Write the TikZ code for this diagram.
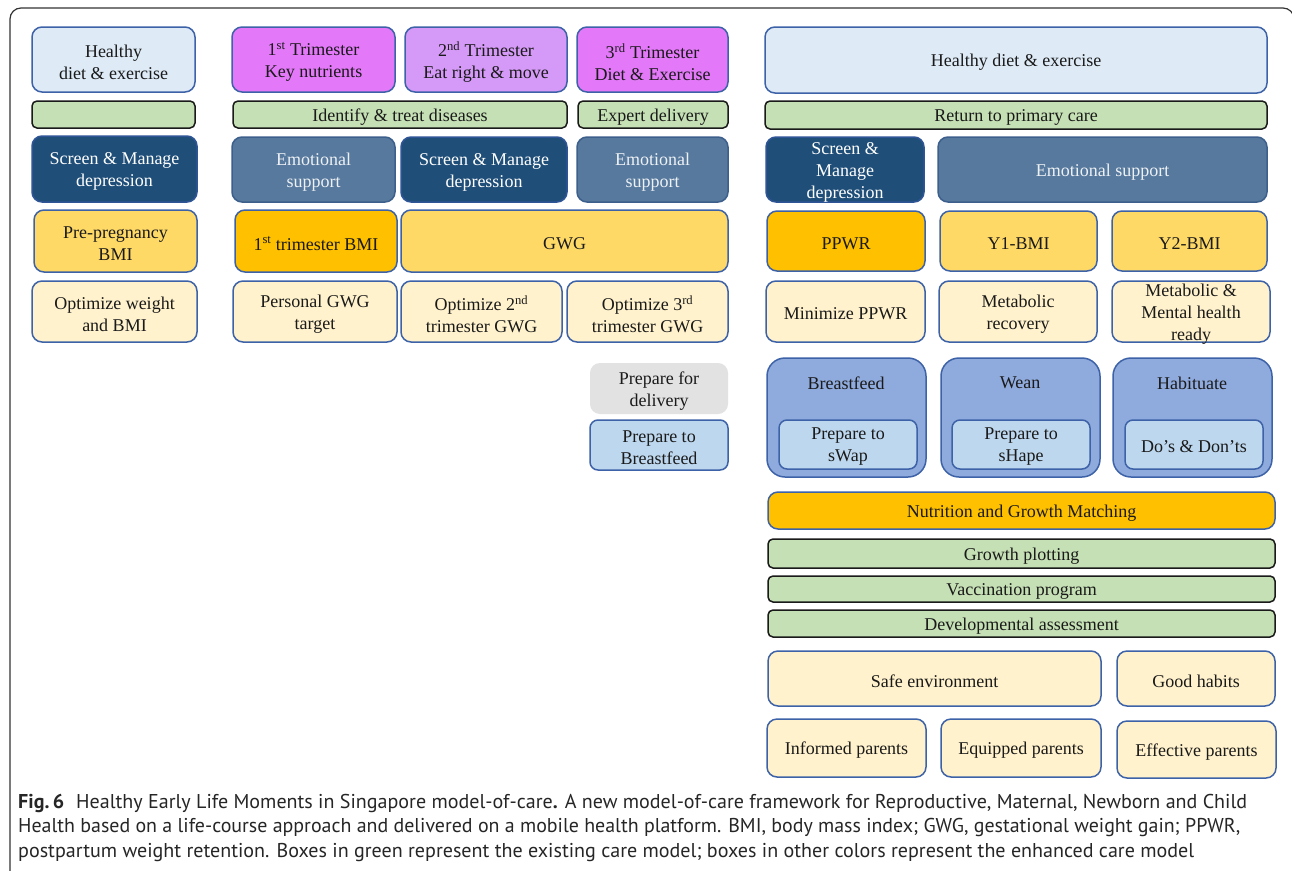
\documentclass[tikz,border=0pt]{standalone}
\usepackage{fontspec}
\setmainfont{Liberation Serif}
\newfontfamily\capfont{PT Sans}
\usepackage{graphicx}
\definecolor{lbfill}{HTML}{DEEBF7}
\definecolor{bord}{HTML}{3D62A8}
\definecolor{magfill}{HTML}{E379F9}
\definecolor{purfill}{HTML}{D59AF7}
\definecolor{grnfill}{HTML}{C5E0B4}
\definecolor{grnbord}{HTML}{1A1A1A}
\definecolor{navyfill}{HTML}{1F4E79}
\definecolor{navybord}{HTML}{2F5597}
\definecolor{slatefill}{HTML}{56799D}
\definecolor{slatebord}{HTML}{3D5F8C}
\definecolor{yelfill}{HTML}{FFD966}
\definecolor{orgfill}{HTML}{FFC000}
\definecolor{crmfill}{HTML}{FFF2CC}
\definecolor{bigfill}{HTML}{8FAADC}
\definecolor{ibfill}{HTML}{BDD7EE}
\definecolor{gryfill}{HTML}{E2E2E2}
\definecolor{txt}{HTML}{1A1A1A}
\definecolor{captxt}{HTML}{262626}
\definecolor{framecol}{HTML}{333333}
\newcommand{\mybox}[7]{%
  \node[#2, minimum width={#5-#3}, minimum height={#6-#4}] (#1) at ({(#3+#5)/2},{(#4+#6)/2}) {};
  \node[#2, draw=none, fill=none, minimum width=0pt, minimum height=0pt, yshift=-2.5pt] (#1-t) at (#1.center) {#7};}
\begin{document}
\begin{tikzpicture}[x=1pt,y=-1pt,
  base/.style={rectangle, rounded corners=10pt, line width=1.5pt, inner sep=0pt, align=center, text=txt, font=\fontsize{18}{22}\selectfont},
  lb/.style={base, draw=bord, fill=lbfill},
  mag/.style={base, draw=bord, fill=magfill},
  pur/.style={base, draw=bord, fill=purfill},
  grn/.style={base, rounded corners=5pt, draw=grnbord, fill=grnfill},
  navy/.style={base, draw=navybord, fill=navyfill, text=white},
  slate/.style={base, draw=slatebord, fill=slatefill, text=white!90!slatefill},
  yel/.style={base, draw=bord, fill=yelfill},
  org/.style={base, draw=bord, fill=orgfill},
  crm/.style={base, draw=bord, fill=crmfill},
  big/.style={base, rounded corners=18pt, draw=bord, fill=bigfill},
  ib/.style={base, rounded corners=8pt, draw=bord, fill=ibfill},
  gry/.style={base, fill=gryfill},
  lbl/.style={text=txt, inner sep=0pt, font=\fontsize{18}{22}\selectfont},
  capline/.style={anchor=base west, inner sep=0pt, text=captxt, font=\capfont\fontsize{20}{25}\selectfont}
]
\path[use as bounding box] (0,0) rectangle (1292,870);
\clip (0,0) rectangle (1292,870);
\fill[white] (0,0) rectangle (1292,870);
\draw[framecol, line width=1.2pt, rounded corners=11pt] (10,880) -- (10,8) -- (1294,8) -- (1294,80);
% left column
\mybox{hd1}{lb}{32}{27}{195}{92}{Healthy\\diet \& exercise}
\mybox{g1}{grn}{32}{101}{195}{128}{}
\mybox{sm1}{navy}{32}{136}{197}{202}{Screen \& Manage\\depression}
\mybox{pbmi}{yel}{34}{210}{197}{272}{Pre-pregnancy\\BMI}
\mybox{ow}{crm}{32}{281}{197}{342}{Optimize weight\\and BMI}
% pregnancy
\mybox{t1}{mag}{232}{27}{395}{92}{1\textsuperscript{st} Trimester\\Key nutrients}
\mybox{t2}{pur}{405}{27}{567}{92}{2\textsuperscript{nd} Trimester\\Eat right \& move}
\mybox{t3}{mag}{577}{27}{728}{92}{3\textsuperscript{rd} Trimester\\Diet \& Exercise}
\mybox{itd}{grn}{233}{101}{567}{128}{Identify \& treat diseases}
\mybox{ed}{grn}{578}{101}{728}{128}{Expert delivery}
\mybox{es1}{slate}{232}{137}{395}{202}{Emotional\\support}
\mybox{sm2}{navy}{401}{137}{567}{202}{Screen \& Manage\\depression}
\mybox{es2}{slate}{577}{137}{728}{202}{Emotional\\support}
\mybox{tbmi}{org}{235}{210}{397}{272}{1\textsuperscript{st} trimester BMI}
\mybox{gwg}{yel}{401}{210}{728}{272}{GWG}
\mybox{pgt}{crm}{233}{281}{397}{342}{Personal GWG\\target}
\mybox{o2}{crm}{401}{281}{562}{342}{Optimize 2\textsuperscript{nd}\\trimester GWG}
\mybox{o3}{crm}{567}{281}{728}{342}{Optimize 3\textsuperscript{rd}\\trimester GWG}
\mybox{pfd}{gry}{590}{363}{728}{414}{Prepare for\\delivery}
\mybox{ptb}{ib}{590}{420}{728}{470}{Prepare to\\Breastfeed}
% postpartum / child
\mybox{hd2}{lb}{765}{27}{1267}{93}{Healthy diet \& exercise}
\mybox{rpc}{grn}{765}{101}{1267}{129}{Return to primary care}
\mybox{sm3}{navy}{766}{137}{924}{202}{Screen \&\\Manage\\depression}
\mybox{es3}{slate}{938}{137}{1267}{202}{Emotional support}
\mybox{ppwr}{org}{767}{211}{925}{271}{PPWR}
\mybox{y1}{yel}{940}{211}{1097}{271}{Y1-BMI}
\mybox{y2}{yel}{1112}{211}{1267}{271}{Y2-BMI}
\mybox{mp}{crm}{766}{281}{925}{342}{Minimize PPWR}
\mybox{mr}{crm}{939}{281}{1097}{342}{Metabolic\\recovery}
\mybox{mm}{crm}{1112}{281}{1270}{342}{Metabolic \&\\Mental health\\ready}
\mybox{bf}{big}{767}{358}{926}{477}{}
\mybox{wn}{big}{941}{358}{1100}{477}{}
\mybox{hb}{big}{1113}{358}{1272}{477}{}
\node[lbl] (bfl) at (846,383) {Breastfeed};
\node[lbl] (wnl) at (1020,383) {Wean};
\node[lbl] (hbl) at (1192,383) {Habituate};
\mybox{sw}{ib}{779}{420}{917}{469}{Prepare to\\sWap}
\mybox{sh}{ib}{952}{420}{1090}{469}{Prepare to\\sHape}
\mybox{dd}{ib}{1125}{420}{1263}{469}{Do’s \& Don’ts}
\mybox{ngm}{org}{768}{492}{1275}{529}{Nutrition and Growth Matching}
\mybox{gp}{grn}{768}{539}{1275}{568}{Growth plotting}
\mybox{vp}{grn}{768}{576}{1275}{602}{Vaccination program}
\mybox{da}{grn}{768}{610}{1275}{637}{Developmental assessment}
\mybox{se}{crm}{768}{651}{1101}{706}{Safe environment}
\mybox{gh}{crm}{1117}{651}{1275}{706}{Good habits}
\mybox{ip}{crm}{767}{719}{926}{777}{Informed parents}
\mybox{eqp}{crm}{941}{719}{1101}{777}{Equipped parents}
\mybox{efp}{crm}{1117}{721}{1276}{778}{Effective parents}
% caption
\node[capline] (cap1) at (18,808) {\resizebox{1229pt}{\height}{\textbf{Fig.\,6}\hspace{0.6em}Healthy Early Life Moments in Singapore model-of-care\textbf{.} A new model-of-care framework for Reproductive, Maternal, Newborn and Child}};
\node[capline] (cap2) at (18,832) {\resizebox{1222pt}{\height}{Health based on a life-course approach and delivered on a mobile health platform. BMI, body mass index; GWG, gestational weight gain; PPWR,}};
\node[capline] (cap3) at (18,857) {\resizebox{1176pt}{\height}{postpartum weight retention. Boxes in green represent the existing care model; boxes in other colors represent the enhanced care model}};
\end{tikzpicture}
\end{document}
